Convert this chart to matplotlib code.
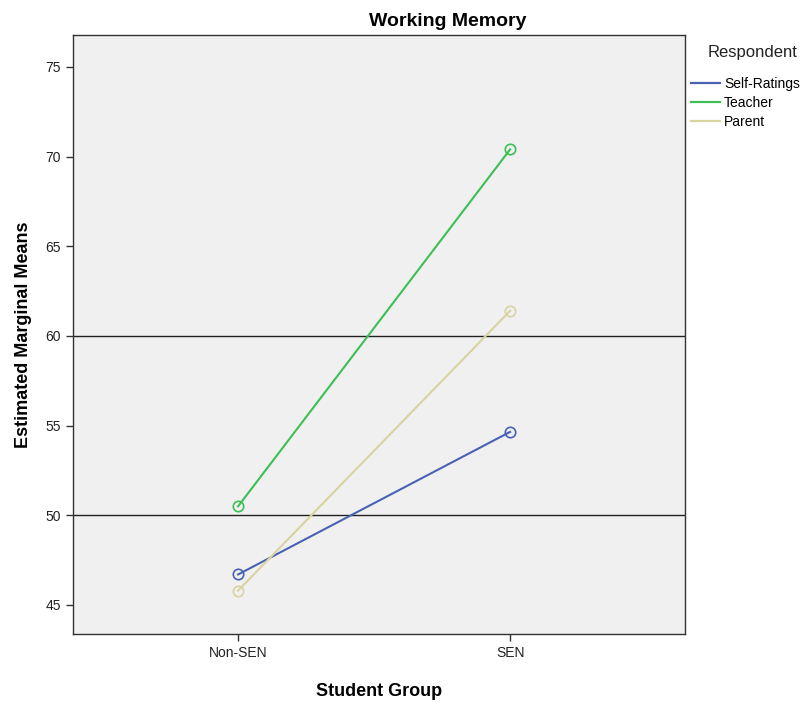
import matplotlib
matplotlib.use('Agg')
import matplotlib.pyplot as plt
from matplotlib.lines import Line2D

plt.rcParams['font.family'] = ['Liberation Sans', 'DejaVu Sans']

groups = ['Non-SEN', 'SEN']
respondents = ['Self-Ratings', 'Teacher', 'Parent']
self_ratings = [46.7, 54.65]
teacher = [50.5, 70.4]
parent = [45.8, 61.4]
colors = ['#4a62b4', '#3cbf55', '#d8d3a0']
ref_lines = [50, 60]
yticks = [45, 50, 55, 60, 65, 70, 75]

fig = plt.figure(figsize=(8.09, 7.04), dpi=100)
ax = fig.add_axes([73 / 809, 1 - 634 / 704, 612 / 809, 599 / 704])
ax.set_facecolor('#f0f0f0')

x = list(range(len(groups)))
for vals, col in zip([self_ratings, teacher, parent], colors):
    ax.plot(x, vals, color=col, lw=1.5, marker='o', markersize=7.5,
            markerfacecolor='none', markeredgecolor=col, markeredgewidth=1.2, zorder=3)

for r in ref_lines:
    ax.axhline(r, color='#222222', lw=1.0, zorder=2)

ax.set_xlim(-0.607, 1.643)
ax.set_ylim(43.38, 76.78)
ax.set_xticks(x)
ax.set_xticklabels(groups, fontsize=10, color='#222222')
ax.set_yticks(yticks)
ax.set_yticklabels([str(t) for t in yticks], fontsize=10, color='#222222')
ax.tick_params(direction='out', length=5, width=1, color='#333333')
for s in ax.spines.values():
    s.set_color('#333333')
    s.set_linewidth(1.0)

ax.set_xlabel('Student Group', fontsize=13, fontweight='bold', labelpad=17)
ax.set_ylabel('Estimated Marginal Means', fontsize=13, fontweight='bold', labelpad=10)
fig.text(448 / 809, 1 - 21 / 704, 'Working Memory', fontsize=14, fontweight='bold',
         ha='center', va='center')

# legend title placed separately, centred above entries
fig.text(753 / 809, 1 - 52 / 704, 'Respondent', fontsize=12, ha='center', va='center',
         color='#222222')
handles = [Line2D([], [], color=c, lw=1.6) for c in colors]
fig.legend(handles, respondents, loc='upper left', bbox_to_anchor=(688 / 809, 1 - 74 / 704),
           frameon=False, fontsize=10, handlelength=2.1, handletextpad=0.3,
           labelspacing=0.38, borderaxespad=0, borderpad=0.2)

fig.savefig('out.png', dpi=100)
